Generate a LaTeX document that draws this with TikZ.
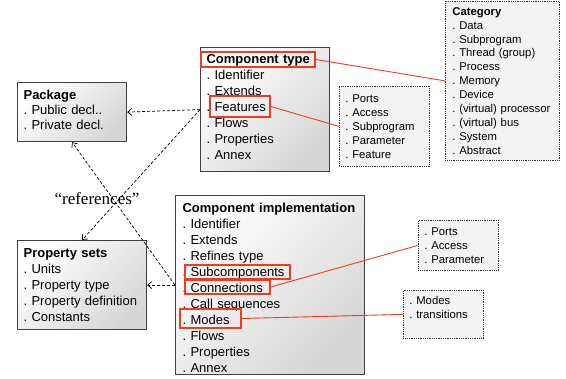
\documentclass[tikz,border=0pt]{standalone}
\usepackage{fontspec}
\setmainfont{Liberation Sans}
\newfontfamily\quotefont{Liberation Serif}
\usetikzlibrary{arrows.meta,positioning}
\definecolor{hlred}{RGB}{240,60,30}
\definecolor{notegray}{RGB}{243,243,243}

\begin{document}
\frenchspacing
\begin{tikzpicture}[x=1pt, y=-1pt,
    comp/.style={draw=black!75, line width=1.2pt, top color=white, bottom color=black!16, shading angle=45, anchor=north west, inner xsep=6pt, inner ysep=0pt, align=left, font=\fontsize{13}{16}\selectfont},
    note/.style={draw=black!80, densely dotted, line width=0.8pt, fill=notegray, anchor=north west, inner xsep=6pt, inner ysep=0pt, align=left, font=\fontsize{11.3}{14}\selectfont},
    hl/.style={draw=hlred, line width=1.5pt, inner sep=0pt},
    link/.style={hlred, line width=0.9pt},
    ref/.style={dash pattern=on 3pt off 2pt, line width=0.7pt, -{Straight Barb[length=4pt, width=7pt]}}
]
    \useasboundingbox (0,0) rectangle (566,379);

    % Main boxes
    \node[comp, minimum width=109pt, minimum height=59pt, text width=97pt, font=\fontsize{13}{15}\selectfont] (pkg) at (17,82)
        {\raisebox{2pt}[\height][\depth]{\parbox{97pt}{\textbf{Package}\\. Public decl..\\. Private decl.}}};
    \node[comp, minimum width=129pt, minimum height=124pt, text width=117pt] (ctype) at (200,47)
        {\raisebox{3pt}[\height][\depth]{\parbox{117pt}{\textbf{Component type}\\. Identifier\\. Extends\\. Features\\. Flows\\. Properties\\. Annex}}};
    \node[comp, minimum width=129pt, minimum height=89pt, text width=117pt] (pset) at (17,240)
        {\textbf{Property sets}\\. Units\\. Property type\\. Property definition\\. Constants};
    \node[comp, minimum width=189pt, minimum height=179pt, text width=175pt, inner xsep=7pt] (cimpl) at (175,195)
        {\raisebox{-2.5pt}[\height][\depth]{\parbox{175pt}{\textbf{Component implementation}\\. Identifier\\. Extends\\. Refines type\\. Subcomponents\\. Connections\\. Call sequences\\. Modes\\. Flows\\. Properties\\. Annex}}};

    % Side notes
    \node[note, minimum width=114pt, minimum height=159pt, text width=100pt, inner xsep=7pt, font=\fontsize{11.3}{13.9}\selectfont] (cat) at (445,1)
        {\textbf{Category}\\. Data\\. Subprogram\\. Thread (group)\\. Process\\. Memory\\. Device\\. (virtual) processor\\. (virtual) bus\\. System\\. Abstract};
    \node[note, minimum width=90pt, minimum height=80pt, text width=78pt] (featnote) at (339,86)
        {. Ports\\. Access\\. Subprogram\\. Parameter\\. Feature};
    \node[note, minimum width=80pt, minimum height=50pt, text width=68pt] (connnote) at (418,220)
        {. Ports\\. Access\\. Parameter};
    \node[note, minimum width=80pt, minimum height=48pt, text width=68pt] (modesnote) at (403,290)
        {. Modes\\. transitions\\\mbox{}};

    % Highlights
    \node[hl, minimum width=114pt, minimum height=15pt] (hltype) at (258,59.5) {};
    \node[hl, minimum width=60pt, minimum height=21pt] (hlfeat) at (240,106.5) {};
    \node[hl, minimum width=105pt, minimum height=14pt] (hlsub) at (237.5,272) {};
    \node[hl, minimum width=85pt, minimum height=14pt] (hlconn) at (227.5,287) {};
    \node[hl, minimum width=61pt, minimum height=19pt] (hlmodes) at (210.5,318.5) {};

    \draw[link] (hltype.east) -- (cat.west);
    \draw[link] (hlfeat.east) -- (featnote.west);
    \draw[link] (hlconn.east) -- (connnote.west);
    \draw[link] (hlmodes.east) -- (modesnote.west);

    % References
    \draw[ref] (ctype.west) -- (pkg.east);
    \draw[ref] (ctype.west) -- (pset.north);
    \draw[ref] (cimpl.west) -- (pkg.south);
    \draw[ref] (cimpl.west) -- (pset.east);

    \node[font=\quotefont\fontsize{17}{20}\selectfont] (refs) at (97,199) {“references”};
\end{tikzpicture}
\end{document}
